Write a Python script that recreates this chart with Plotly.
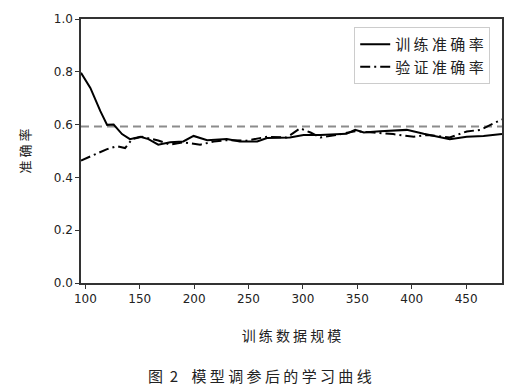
import plotly.graph_objects as go

train_x = [96, 104.6, 113.8, 120, 126, 133.7, 141, 150.5, 158, 167, 178, 190, 199.5, 212, 230, 242, 258, 267, 288, 300.5, 316, 331, 340, 348, 356, 371, 395.5, 411, 423, 435, 450.6, 466, 483]
train_y = [0.796, 0.739, 0.651, 0.599, 0.600, 0.564, 0.545, 0.554, 0.545, 0.524, 0.533, 0.536, 0.557, 0.541, 0.545, 0.536, 0.536, 0.549, 0.551, 0.561, 0.561, 0.565, 0.565, 0.580, 0.570, 0.575, 0.580, 0.565, 0.554, 0.545, 0.554, 0.557, 0.564]

val_x = [96, 107.7, 120, 129, 136.5, 143, 152, 167, 178, 190, 205.6, 218, 230, 248, 267, 285, 297.5, 307, 316, 331, 348, 365, 383, 402, 414, 435, 450.6, 463, 472, 483]
val_y = [0.464, 0.486, 0.507, 0.518, 0.511, 0.545, 0.554, 0.540, 0.524, 0.533, 0.524, 0.536, 0.541, 0.539, 0.554, 0.551, 0.586, 0.570, 0.551, 0.561, 0.575, 0.570, 0.564, 0.554, 0.561, 0.551, 0.574, 0.580, 0.599, 0.620]

ref_level = 0.593
x_range = [96, 483]
x_ticks = [100, 150, 200, 250, 300, 350, 400, 450]
y_ticks = [0.0, 0.2, 0.4, 0.6, 0.8, 1.0]

font_cjk = "Noto Sans CJK SC"
NB = "\u00a0"

fig = go.Figure()
fig.add_trace(go.Scatter(x=x_range, y=[ref_level, ref_level], mode="lines",
                         line=dict(color="#8c8c8c", width=2, dash="8px,5px"),
                         showlegend=False, hoverinfo="skip"))
fig.add_trace(go.Scatter(x=train_x, y=train_y, mode="lines", name="训 练 准 确 率",
                         line=dict(color="black", width=2)))
fig.add_trace(go.Scatter(x=val_x, y=val_y, mode="lines", name="验 证 准 确 率",
                         line=dict(color="black", width=2, dash="10px,4px,2px,4px")))

axis_common = dict(showline=True, linecolor="#333333", linewidth=1.5, mirror=True,
                   ticks="outside", ticklen=4, tickcolor="#333333", showgrid=False,
                   zeroline=False, tickfont=dict(family="DejaVu Sans", size=12, color="#222"))

fig.update_layout(
    width=520, height=390,
    margin=dict(l=81, r=18, t=17, b=107),
    paper_bgcolor="white", plot_bgcolor="white",
    xaxis=dict(range=x_range, tickvals=x_ticks, **axis_common,
               title=dict(text="训 练 数 据 规 模", font=dict(family=font_cjk, size=14, color="#222"), standoff=26)),
    yaxis=dict(range=[0, 1], tickvals=y_ticks, tickformat=".1f", **axis_common,
               title=dict(text="准 确 率", font=dict(family=font_cjk, size=13, color="#222"), standoff=20)),
    legend=dict(x=0.972, y=0.97, xanchor="right", yanchor="top",
                bgcolor="white", bordercolor="#cccccc", borderwidth=1,
                font=dict(family=font_cjk, size=15, color="#222"),
                tracegroupgap=0, itemwidth=30),
    showlegend=True,
)

caption = "图" + NB * 2 + "2" + NB * 4 + "模 型 调 参 后 的 学 习 曲 线"
fig.add_annotation(text=caption, xref="paper", yref="paper",
                   x=0.425, y=-0.35, xanchor="center", yanchor="middle", showarrow=False,
                   font=dict(family=font_cjk, size=15, color="#222"))

fig.write_html("out.html")
